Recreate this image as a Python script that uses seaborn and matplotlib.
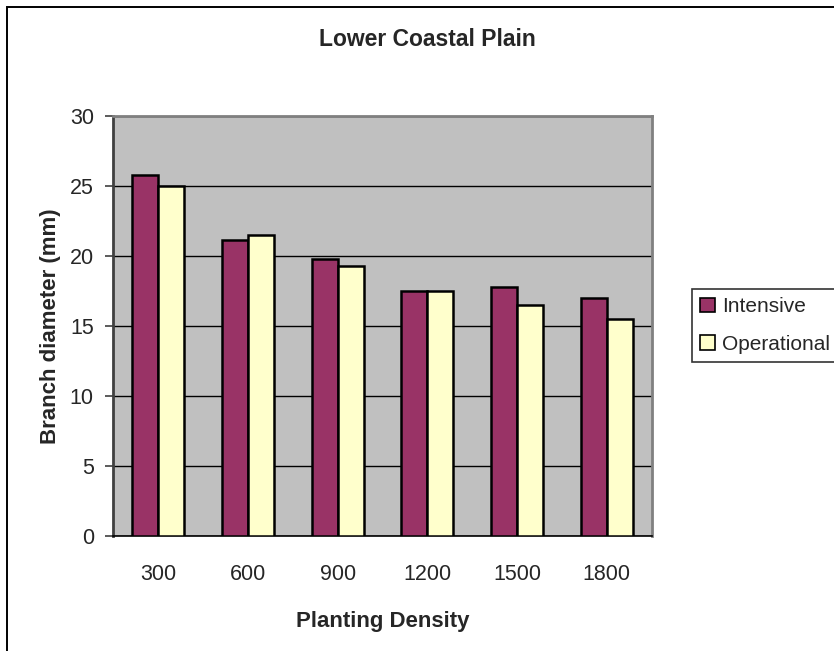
import matplotlib
matplotlib.use("Agg")
import matplotlib.pyplot as plt
import seaborn as sns
import pandas as pd
from matplotlib.patches import Rectangle, Patch

# Branch diameter by planting density
densities = ["300", "600", "900", "1200", "1500", "1800"]
intensive = [25.8, 21.1, 19.8, 17.5, 17.8, 17.0]
operational = [25.0, 21.5, 19.3, 17.5, 16.5, 15.5]
series_names = ["Intensive", "Operational"]
series_colors = ["#993366", "#FFFFCC"]
y_ticks = [0, 5, 10, 15, 20, 25, 30]

df = pd.DataFrame({
    "density": densities * 2,
    "value": intensive + operational,
    "series": [series_names[0]] * len(densities) + [series_names[1]] * len(densities),
})

sns.set_style("white")
plt.rcParams["font.family"] = ["Liberation Sans", "DejaVu Sans"]

W, H = 834, 651
fig = plt.figure(figsize=(W / 100, H / 100), dpi=100)

# chart frame (runs off the right and bottom edges)
fig.patches.append(Rectangle((7 / W, -0.1), 1.2, 1 - 6.5 / H + 0.1,
                             transform=fig.transFigure, fill=False,
                             edgecolor="black", linewidth=1.4, zorder=0))

ax = fig.add_axes([113.3 / W, 1 - 536 / H, 538.4 / W, 420.3 / H])
ax.set_facecolor("#C0C0C0")

sns.barplot(data=df, x="density", y="value", hue="series", order=densities,
            hue_order=series_names, palette=series_colors, width=0.58,
            edgecolor="black", linewidth=1.8, saturation=1, ax=ax,
            legend=False, zorder=3)

ax.set_xlim(-0.5, len(densities) - 0.5)
ax.set_ylim(0, 30)
ax.set_yticks(y_ticks)
ax.yaxis.grid(True, color="black", linewidth=1.0, zorder=1)
ax.set_axisbelow(True)

# category labels centred, tick marks between categories
ax.set_xticks(range(len(densities)))
ax.set_xticklabels(densities)
ax.set_xticks([i - 0.5 for i in range(len(densities) + 1)], minor=True)
ax.tick_params(axis="x", which="major", length=0, pad=20, labelsize=15.5)
ax.tick_params(axis="x", which="minor", length=6, width=1.2, color="#404040",
               direction="out")
ax.tick_params(axis="y", length=6, width=1.2, color="#404040", pad=8,
               labelsize=15.5, direction="out", left=True)

for side in ["top", "right"]:
    ax.spines[side].set_color("#808080")
    ax.spines[side].set_linewidth(2)
ax.spines["left"].set_color("#404040")
ax.spines["left"].set_linewidth(2)
ax.spines["bottom"].set_color("black")
ax.spines["bottom"].set_linewidth(1.2)

ax.set_xlabel("Planting Density", fontsize=16, fontweight="bold", labelpad=19)
ax.set_ylabel("Branch diameter (mm)", fontsize=16, fontweight="bold", labelpad=6)

fig.text(427 / W, 1 - 39 / H, "Lower Coastal Plain", ha="center", va="center",
         fontsize=16.5, fontweight="bold")

handles = [Patch(facecolor=c, edgecolor="black", linewidth=1.2) for c in series_colors]
leg = fig.legend(handles, series_names, loc="upper left",
                 bbox_to_anchor=(692 / W, 1 - 289 / H), fontsize=15,
                 frameon=True, fancybox=False, handlelength=0.7,
                 handleheight=0.7, handletextpad=0.35, labelspacing=0.88,
                 borderpad=0.4, borderaxespad=0)
leg.get_frame().set_edgecolor("black")
leg.get_frame().set_linewidth(1.2)

fig.savefig("out.png", dpi=100)
